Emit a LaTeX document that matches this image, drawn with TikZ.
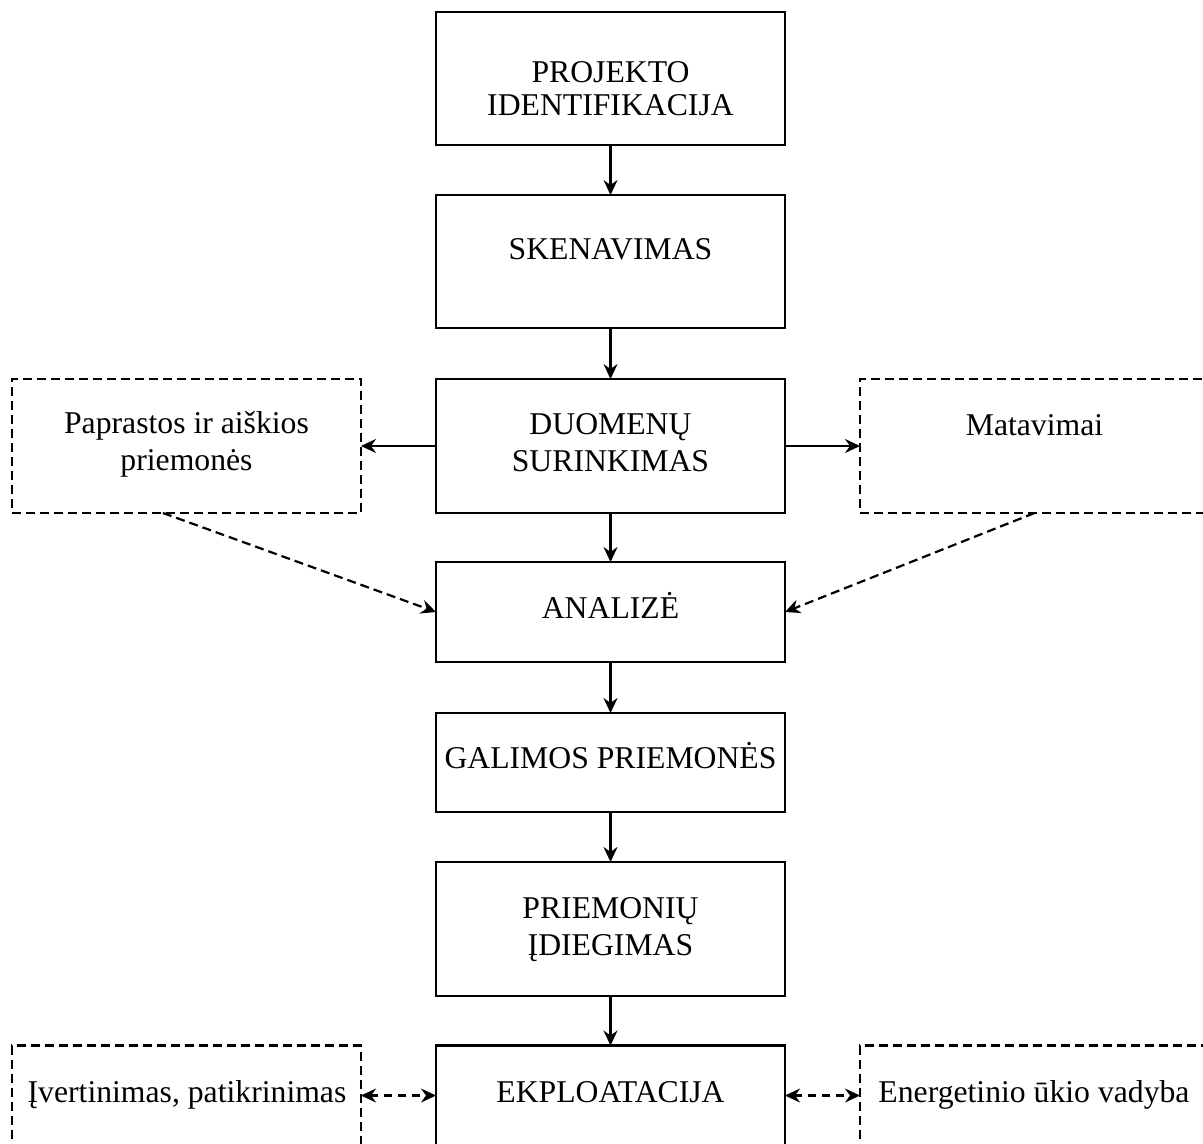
\documentclass[tikz,border=0pt]{standalone}
\usepackage{fontspec}
\setmainfont{Liberation Serif}
\usetikzlibrary{arrows.meta}
\tikzset{
  mainbox/.style={draw, line width=2.2pt, minimum width=349pt, inner sep=0pt, outer sep=0pt},
  sidebox/.style={draw, line width=2.2pt, dash pattern=on 9pt off 5pt, minimum width=349pt, inner sep=0pt, outer sep=0pt},
  txt/.style={anchor=base, inner sep=0pt, font=\fontsize{31.7}{36}\selectfont},
  tip/.style={Stealth[length=15pt,width=14pt,inset=5pt]},
  conn/.style={line width=2.2pt, -{Stealth[length=15pt,width=14pt,inset=5pt]}},
  dconn/.style={line width=2.2pt, dash pattern=on 9pt off 5pt, -{Stealth[length=15pt,width=14pt,inset=5pt]}},
  biconn/.style={line width=2.2pt, dash pattern=on 8pt off 6pt, {Stealth[length=15pt,width=14pt,inset=5pt]}-{Stealth[length=15pt,width=14pt,inset=5pt]}}
}
\begin{document}
\begin{tikzpicture}[x=1pt,y=-1pt]
\clip (0,0) rectangle (1203,1144);
\fill[white] (0,0) rectangle (1203,1144);
% main boxes
\node[mainbox, minimum height=133pt] (b1) at (610.5,78.5) {};
\node[mainbox, minimum height=133pt] (b2) at (610.5,261.5) {};
\node[mainbox, minimum height=134pt] (b3) at (610.5,446) {};
\node[mainbox, minimum height=100pt] (b4) at (610.5,612) {};
\node[mainbox, minimum height=99pt] (b5) at (610.5,762.5) {};
\node[mainbox, minimum height=134pt] (b6) at (610.5,929) {};
\node[mainbox, minimum height=100pt] (b7) at (610.5,1095.5) {};
% side boxes
\node[sidebox, minimum height=134pt] (l1) at (186.5,446) {};
\node[sidebox, minimum height=134pt] (r1) at (1034.5,446) {};
\node[sidebox, minimum height=100pt] (l2) at (186.5,1095.5) {};
\node[sidebox, minimum height=100pt] (r2) at (1034.5,1095.5) {};
% texts
\node[txt] (t1a) at (610.5,82) {PROJEKTO};
\node[txt] (t1b) at (610.5,115) {IDENTIFIKACIJA};
\node[txt] (t2) at (610.5,259) {SKENAVIMAS};
\node[txt] (t3a) at (610.5,434) {DUOMENŲ};
\node[txt] (t3b) at (610.5,471) {SURINKIMAS};
\node[txt] (t4) at (610.5,618) {ANALIZĖ};
\node[txt] (t5) at (610.5,768) {GALIMOS PRIEMONĖS};
\node[txt] (t6a) at (610.5,918) {PRIEMONIŲ};
\node[txt] (t6b) at (610.5,955) {ĮDIEGIMAS};
\node[txt] (t7) at (610.5,1102) {EKPLOATACIJA};
\node[txt] (tl1a) at (186.5,433) {Paprastos ir aiškios};
\node[txt] (tl1b) at (186.5,470) {priemonės};
\node[txt] (tr1) at (1034.5,435) {Matavimai};
\node[txt] (tl2) at (187,1102) {Įvertinimas, patikrinimas};
\node[txt] (tr2) at (1034,1102) {Energetinio ūkio vadyba};
% connectors
\draw[conn] (b1.south) -- (b2.north);
\draw[conn] (b2.south) -- (b3.north);
\draw[conn] (b3.south) -- (b4.north);
\draw[conn] (b4.south) -- (b5.north);
\draw[conn] (b5.south) -- (b6.north);
\draw[conn] (b6.south) -- (b7.north);
\draw[conn] (b3.west) -- (l1.east);
\draw[conn] (b3.east) -- (r1.west);
\coordinate (l1out) at (163,513);
\draw[dconn] (l1out) -- (b4.west);
\draw[dconn] (r1.south) -- (b4.east);
\draw[biconn] (l2.east) -- (b7.west);
\draw[biconn] (b7.east) -- (r2.west);
\end{tikzpicture}
\end{document}
